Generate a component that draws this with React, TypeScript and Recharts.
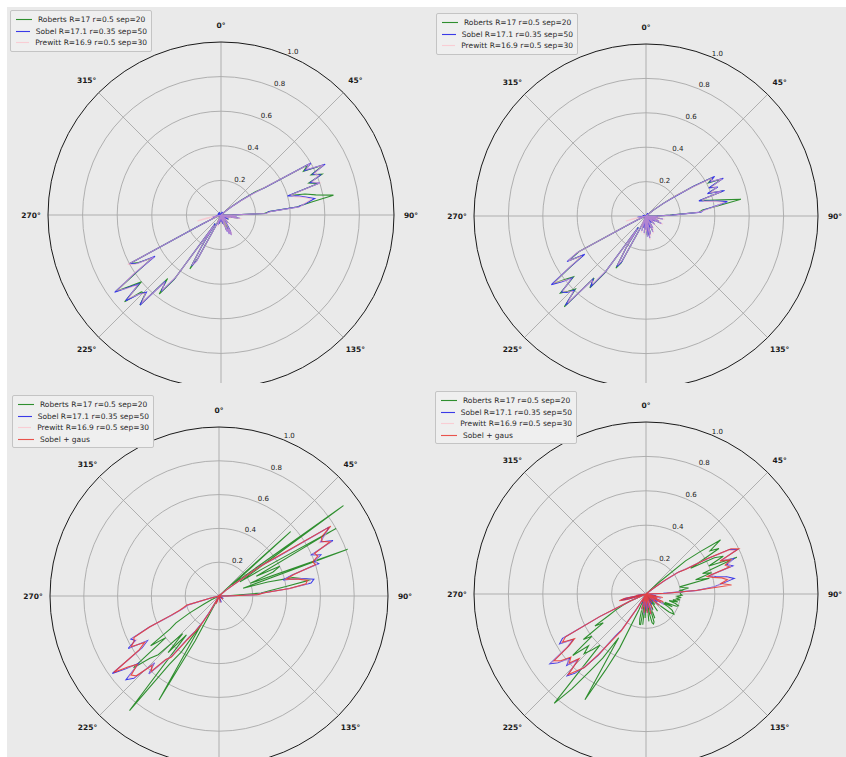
import React from 'react';
import { RadarChart, Radar, PolarGrid, PolarAngleAxis, PolarRadiusAxis } from 'recharts';

type Pt = [number, number];

// ---------- labels ----------
const ANGLE_LABELS = [0, 45, 90, 135, 225, 270, 315];
const RADIUS_TICKS = [0.2, 0.4, 0.6, 0.8, 1.0];
const RING_VALUES = [0.2, 0.4, 0.6, 0.8];
const GRID_ANGLES = [90, 45, 0, -45, -90, -135, -180, -225];
const NAME_ROBERTS = 'Roberts R=17 r=0.5 sep=20';
const NAME_SOBEL = 'Sobel R=17.1 r=0.35 sep=50';
const NAME_PREWITT = 'Prewitt R=16.9 r=0.5 sep=30';
const NAME_GAUS = 'Sobel + gaus';

// ---------- data: [angle in degrees, value]; angles not listed are 0 ----------
const tlRoberts: Pt[] = [
  [50, 0.04], [52, 0.09], [54, 0.15], [56, 0.24], [58, 0.3], [60, 0.58], [62, 0.54], [64, 0.66], [66, 0.57], [68, 0.63], [70, 0.54], [72, 0.59], [74, 0.41], [76, 0.5], [78, 0.56], [80, 0.66], [82, 0.52], [84, 0.44], [86, 0.28], [88, 0.25], [90, 0.06],
  [94, 0.05], [96, 0.08], [100, 0.1], [102, 0.06], [106, 0.05], [120, 0.05], [140, 0.05], [150, 0.1], [152, 0.12], [156, 0.1], [160, 0.09], [170, 0.05], [190, 0.05], [200, 0.05],
  [206, 0.08], [208, 0.28], [210, 0.36], [212, 0.2], [214, 0.06], [216, 0.46], [218, 0.58], [220, 0.48], [222, 0.7], [224, 0.63], [226, 0.64], [228, 0.75], [230, 0.6], [232, 0.67], [234, 0.75], [236, 0.58], [238, 0.47], [240, 0.55], [242, 0.6], [244, 0.12], [246, 0.06],
];
const tlSobel: Pt[] = [
  [20, 0.02], [36, 0.02],
  [50, 0.04], [52, 0.08], [54, 0.14], [56, 0.22], [58, 0.3], [60, 0.6], [62, 0.55], [64, 0.67], [66, 0.58], [68, 0.62], [70, 0.55], [72, 0.6], [74, 0.4], [76, 0.46], [78, 0.5], [80, 0.55], [82, 0.5], [84, 0.45], [86, 0.28], [88, 0.26], [90, 0.06],
  [94, 0.06], [96, 0.09], [98, 0.05], [100, 0.11], [102, 0.07], [106, 0.05], [112, 0.04], [120, 0.05], [130, 0.04], [140, 0.06], [148, 0.08], [150, 0.11], [152, 0.13], [154, 0.08], [156, 0.12], [158, 0.07], [160, 0.1], [164, 0.06], [170, 0.05], [180, 0.04], [190, 0.05], [196, 0.06], [200, 0.05], [204, 0.04],
  [206, 0.08], [208, 0.3], [210, 0.34], [212, 0.2], [214, 0.06], [216, 0.45], [218, 0.56], [220, 0.5], [222, 0.7], [224, 0.62], [226, 0.66], [228, 0.74], [230, 0.62], [232, 0.68], [234, 0.76], [236, 0.6], [238, 0.45], [240, 0.56], [242, 0.6], [244, 0.12], [246, 0.06], [248, 0.04],
  [256, 0.05], [262, 0.03], [280, 0.02], [300, 0.02], [330, 0.02],
];
const tlPrewitt: Pt[] = [
  [50, 0.04], [52, 0.08], [54, 0.13], [56, 0.21], [58, 0.31], [60, 0.59], [62, 0.56], [64, 0.66], [66, 0.59], [68, 0.61], [70, 0.56], [72, 0.6], [74, 0.42], [76, 0.44], [78, 0.49], [80, 0.53], [82, 0.49], [84, 0.46], [86, 0.29], [88, 0.26], [90, 0.07],
  [94, 0.07], [96, 0.09], [100, 0.12], [102, 0.08], [106, 0.06], [112, 0.05], [130, 0.05], [140, 0.07], [150, 0.12], [152, 0.13], [154, 0.09], [156, 0.12], [160, 0.1], [164, 0.07], [180, 0.05], [196, 0.07], [200, 0.05],
  [206, 0.09], [208, 0.31], [210, 0.33], [212, 0.21], [214, 0.07], [216, 0.44], [218, 0.55], [220, 0.51], [222, 0.68], [224, 0.63], [226, 0.66], [228, 0.72], [230, 0.63], [232, 0.69], [234, 0.74], [236, 0.61], [238, 0.46], [240, 0.57], [242, 0.61], [244, 0.13], [246, 0.07], [256, 0.14], [258, 0.08],
];

const trRoberts: Pt[] = [
  [52, 0.06], [54, 0.13], [56, 0.21], [58, 0.33], [60, 0.45], [62, 0.41], [64, 0.49], [66, 0.41], [68, 0.44], [70, 0.39], [72, 0.47], [74, 0.33], [76, 0.38], [78, 0.45], [80, 0.56], [82, 0.42], [84, 0.33], [86, 0.31], [88, 0.14], [90, 0.06],
  [96, 0.06], [100, 0.09], [110, 0.07], [116, 0.09], [134, 0.06], [150, 0.07], [156, 0.09], [166, 0.1], [170, 0.12], [176, 0.11], [186, 0.09], [196, 0.08], [204, 0.05],
  [206, 0.1], [208, 0.31], [210, 0.35], [212, 0.22], [214, 0.08], [216, 0.41], [218, 0.53], [220, 0.47], [222, 0.71], [224, 0.59], [226, 0.63], [228, 0.67], [230, 0.55], [232, 0.6], [234, 0.67], [236, 0.53], [238, 0.43], [240, 0.52], [242, 0.44], [244, 0.1], [246, 0.05],
];
const trSobel: Pt[] = [
  [30, 0.02],
  [52, 0.06], [54, 0.12], [56, 0.2], [58, 0.32], [60, 0.46], [62, 0.42], [64, 0.5], [66, 0.4], [68, 0.45], [70, 0.38], [72, 0.48], [74, 0.32], [76, 0.36], [78, 0.42], [80, 0.48], [82, 0.4], [84, 0.34], [86, 0.32], [88, 0.15], [90, 0.06],
  [96, 0.07], [100, 0.1], [104, 0.06], [110, 0.08], [116, 0.1], [120, 0.06], [126, 0.05], [134, 0.07], [140, 0.05], [150, 0.08], [156, 0.1], [160, 0.07], [166, 0.11], [170, 0.13], [172, 0.1], [176, 0.12], [180, 0.08], [186, 0.1], [190, 0.07], [196, 0.09], [200, 0.06], [204, 0.05],
  [206, 0.1], [208, 0.3], [210, 0.34], [212, 0.22], [214, 0.08], [216, 0.4], [218, 0.52], [220, 0.48], [222, 0.7], [224, 0.6], [226, 0.64], [228, 0.66], [230, 0.56], [232, 0.62], [234, 0.68], [236, 0.54], [238, 0.42], [240, 0.53], [242, 0.45], [244, 0.1], [246, 0.05],
  [254, 0.04], [262, 0.05], [280, 0.02],
];
const trPrewitt: Pt[] = [
  [52, 0.07], [54, 0.12], [56, 0.22], [58, 0.31], [60, 0.44], [62, 0.43], [64, 0.49], [66, 0.42], [68, 0.44], [70, 0.4], [72, 0.46], [74, 0.34], [76, 0.35], [78, 0.41], [80, 0.46], [82, 0.41], [84, 0.35], [86, 0.31], [88, 0.16], [90, 0.07],
  [96, 0.08], [100, 0.11], [104, 0.07], [110, 0.09], [116, 0.11], [126, 0.06], [134, 0.08], [150, 0.09], [156, 0.11], [166, 0.12], [170, 0.14], [176, 0.12], [180, 0.09], [186, 0.11], [196, 0.1], [200, 0.07],
  [206, 0.11], [208, 0.29], [210, 0.33], [212, 0.23], [214, 0.09], [216, 0.39], [218, 0.5], [220, 0.49], [222, 0.68], [224, 0.61], [226, 0.63], [228, 0.65], [230, 0.57], [232, 0.61], [234, 0.66], [236, 0.55], [238, 0.44], [240, 0.52], [242, 0.46], [244, 0.11], [246, 0.06], [256, 0.12], [258, 0.07],
];

const blRoberts: Pt[] = [
  [46, 0.05], [48, 0.57], [50, 0.1], [52, 0.2], [54, 0.91], [56, 0.15], [58, 0.3], [60, 0.8], [62, 0.25], [64, 0.4], [66, 0.35], [68, 0.2], [70, 0.81], [72, 0.15], [74, 0.3], [76, 0.45], [78, 0.5], [80, 0.55], [82, 0.4], [84, 0.3], [86, 0.25], [88, 0.05],
  [206, 0.05], [208, 0.3], [210, 0.71], [212, 0.2], [214, 0.4], [216, 0.5], [218, 0.86], [220, 0.3], [222, 0.45], [224, 0.31], [226, 0.5], [228, 0.55], [230, 0.66], [232, 0.4], [234, 0.5], [236, 0.35], [238, 0.3], [240, 0.2], [242, 0.1], [244, 0.05],
];
const blSobel: Pt[] = [
  [50, 0.05], [52, 0.1], [54, 0.3], [56, 0.4], [58, 0.77], [60, 0.72], [62, 0.68], [64, 0.75], [66, 0.6], [68, 0.65], [70, 0.6], [72, 0.62], [74, 0.45], [76, 0.39], [78, 0.5], [80, 0.57], [82, 0.55], [84, 0.42], [86, 0.26], [88, 0.22], [90, 0.04],
  [120, 0.03], [160, 0.04], [200, 0.04],
  [210, 0.1], [212, 0.18], [214, 0.25], [216, 0.3], [218, 0.45], [220, 0.5], [222, 0.62], [224, 0.55], [226, 0.7], [228, 0.74], [230, 0.62], [232, 0.7], [234, 0.78], [236, 0.55], [238, 0.5], [240, 0.62], [242, 0.56], [244, 0.58], [246, 0.45], [248, 0.3], [250, 0.24], [252, 0.21], [254, 0.19], [256, 0.05],
];
const blPrewitt: Pt[] = [
  [50, 0.06], [52, 0.11], [54, 0.28], [56, 0.41], [58, 0.75], [60, 0.73], [62, 0.67], [64, 0.74], [66, 0.61], [68, 0.64], [70, 0.61], [72, 0.61], [74, 0.46], [76, 0.4], [78, 0.49], [80, 0.55], [82, 0.53], [84, 0.43], [86, 0.27], [88, 0.22], [90, 0.05],
  [210, 0.11], [212, 0.19], [214, 0.26], [216, 0.31], [218, 0.44], [220, 0.51], [222, 0.61], [224, 0.56], [226, 0.69], [228, 0.72], [230, 0.63], [232, 0.69], [234, 0.76], [236, 0.56], [238, 0.51], [240, 0.61], [242, 0.55], [244, 0.57], [246, 0.44], [248, 0.3], [250, 0.24], [252, 0.21], [254, 0.19], [256, 0.06],
];
const blGaus: Pt[] = [
  [50, 0.05], [52, 0.1], [54, 0.29], [56, 0.42], [58, 0.78], [60, 0.7], [62, 0.69], [64, 0.73], [66, 0.62], [68, 0.63], [70, 0.59], [72, 0.6], [74, 0.46], [76, 0.41], [78, 0.48], [80, 0.53], [82, 0.52], [84, 0.42], [86, 0.27], [88, 0.23], [90, 0.05],
  [130, 0.03], [170, 0.04], [200, 0.05],
  [210, 0.12], [212, 0.2], [214, 0.26], [216, 0.32], [218, 0.46], [220, 0.49], [222, 0.6], [224, 0.57], [226, 0.68], [228, 0.7], [230, 0.63], [232, 0.68], [234, 0.77], [236, 0.57], [238, 0.52], [240, 0.6], [242, 0.57], [244, 0.56], [246, 0.45], [248, 0.31], [250, 0.25], [252, 0.22], [254, 0.2], [256, 0.06],
];

const brRoberts: Pt[] = [
  [48, 0.1], [50, 0.3], [52, 0.4], [54, 0.535], [56, 0.45], [58, 0.5], [60, 0.3], [62, 0.45], [64, 0.5], [66, 0.4], [68, 0.57], [70, 0.35], [72, 0.4], [74, 0.3], [76, 0.38], [78, 0.2], [80, 0.22], [82, 0.25], [84, 0.2], [86, 0.22], [88, 0.2], [90, 0.2], [92, 0.21], [94, 0.18],
  [96, 0.2], [98, 0.18], [100, 0.2], [102, 0.16], [104, 0.19], [106, 0.14], [108, 0.18], [110, 0.2], [112, 0.19], [114, 0.12], [116, 0.17], [118, 0.1], [120, 0.15], [122, 0.18], [124, 0.19], [126, 0.2], [128, 0.17], [130, 0.1], [134, 0.05], [140, 0.08], [146, 0.12], [150, 0.05], [156, 0.1], [160, 0.15], [164, 0.17], [166, 0.18], [168, 0.17], [170, 0.12], [174, 0.16], [178, 0.1], [182, 0.14], [186, 0.18], [190, 0.18], [192, 0.18], [194, 0.15], [196, 0.08], [200, 0.06],
  [204, 0.1], [206, 0.35], [208, 0.5], [210, 0.71], [212, 0.3], [214, 0.45], [216, 0.55], [218, 0.7], [220, 0.83], [222, 0.4], [224, 0.45], [226, 0.5], [228, 0.45], [230, 0.556], [232, 0.4], [234, 0.45], [236, 0.3], [238, 0.35], [240, 0.25], [242, 0.2], [244, 0.15], [246, 0.1],
];
const brSobel: Pt[] = [
  [52, 0.05], [54, 0.12], [56, 0.22], [58, 0.28], [60, 0.4], [62, 0.55], [64, 0.59], [66, 0.48], [68, 0.55], [70, 0.5], [72, 0.53], [74, 0.38], [76, 0.42], [78, 0.48], [80, 0.52], [82, 0.45], [84, 0.4], [86, 0.3], [88, 0.1],
  [100, 0.06], [106, 0.09], [110, 0.05], [116, 0.1], [120, 0.12], [124, 0.08], [130, 0.1], [136, 0.06], [150, 0.07], [160, 0.1], [166, 0.12], [170, 0.08], [176, 0.11], [180, 0.09], [186, 0.12], [190, 0.07], [196, 0.09], [200, 0.06],
  [212, 0.1], [214, 0.25], [216, 0.3], [218, 0.45], [220, 0.55], [222, 0.62], [224, 0.66], [226, 0.55], [228, 0.62], [230, 0.58], [232, 0.65], [234, 0.69], [236, 0.55], [238, 0.5], [240, 0.58], [242, 0.55], [244, 0.3], [246, 0.1],
  [254, 0.1], [256, 0.15], [258, 0.12], [262, 0.05],
];
const brPrewitt: Pt[] = [
  [52, 0.06], [54, 0.13], [56, 0.21], [58, 0.29], [60, 0.41], [62, 0.54], [64, 0.58], [66, 0.49], [68, 0.54], [70, 0.51], [72, 0.52], [74, 0.39], [76, 0.41], [78, 0.47], [80, 0.5], [82, 0.44], [84, 0.41], [86, 0.31], [88, 0.11],
  [106, 0.1], [116, 0.11], [120, 0.12], [130, 0.11], [160, 0.11], [166, 0.12], [176, 0.12], [186, 0.12], [196, 0.1],
  [212, 0.11], [214, 0.26], [216, 0.31], [218, 0.44], [220, 0.54], [222, 0.61], [224, 0.65], [226, 0.56], [228, 0.61], [230, 0.59], [232, 0.64], [234, 0.68], [236, 0.56], [238, 0.51], [240, 0.57], [242, 0.54], [244, 0.31], [246, 0.11],
];
const brGaus: Pt[] = [
  [52, 0.05], [54, 0.14], [56, 0.23], [58, 0.27], [60, 0.41], [62, 0.56], [64, 0.6], [66, 0.47], [68, 0.53], [70, 0.49], [72, 0.51], [74, 0.37], [76, 0.4], [78, 0.45], [80, 0.48], [82, 0.44], [84, 0.5], [86, 0.29], [88, 0.12],
  [102, 0.1], [110, 0.07], [114, 0.11], [120, 0.1], [130, 0.1], [144, 0.06], [156, 0.09], [166, 0.12], [176, 0.11], [186, 0.11], [196, 0.09], [206, 0.05],
  [212, 0.11], [214, 0.26], [216, 0.32], [218, 0.44], [220, 0.56], [222, 0.6], [224, 0.65], [226, 0.54], [228, 0.6], [230, 0.57], [232, 0.63], [234, 0.66], [236, 0.54], [238, 0.49], [240, 0.56], [242, 0.53], [244, 0.3], [246, 0.1],
  [254, 0.12], [256, 0.16], [258, 0.13], [262, 0.06],
];

// ---------- styling ----------
const FONT = '"DejaVu Sans", Verdana, sans-serif';
const BG = '#eaeaea';
const GREEN = '#2f8f2f';
const BLUE = '#3a3ae8';
const PINK = '#ffb6c1';
const RED = '#e8372f';

type SeriesDef = { key: string; name: string; color: string; opacity: number; points: Pt[] };

function buildRows(series: SeriesDef[]) {
  const rows: Record<string, number>[] = [];
  for (let a = 0; a < 360; a += 2) {
    const row: Record<string, number> = { angle: a };
    series.forEach((s) => {
      const hit = s.points.find((p) => p[0] === a);
      row[s.key] = hit ? hit[1] : 0;
    });
    rows.push(row);
  }
  return rows;
}

// angle labels: categories are every 2 degrees, so each label is emitted by the
// nearest category and placed at its exact compass angle
function makeAngleTick(cx: number, cy: number, R: number) {
  return (props: any) => {
    const v = Number(props.payload.value);
    const label = ANGLE_LABELS.find((a) => a === v || a === v + 1);
    if (label === undefined) return <g />;
    const rad = (label * Math.PI) / 180;
    const r = R + 17;
    const x = cx + r * Math.sin(rad);
    const y = cy - r * Math.cos(rad);
    return (
      <text x={x} y={y} textAnchor="middle" dominantBaseline="central" fontSize={7.5} fontWeight="bold" fill="#1a1a1a" fontFamily={FONT}>
        {`${label}°`}
      </text>
    );
  };
}

const RadiusTick = (props: any) => {
  const { x, y, payload } = props;
  return (
    <text x={x} y={y - 1.5} textAnchor="start" fontSize={7} fill="#1a1a1a" fontFamily={FONT}>
      {Number(payload.value).toFixed(1)}
    </text>
  );
};

type PanelProps = {
  left: number; top: number; width: number; height: number;
  cx: number; cy: number; R: number;
  series: SeriesDef[];
  legendLeft: number; legendTop: number;
};

function Panel({ left, top, width, height, cx, cy, R, series, legendLeft, legendTop }: PanelProps) {
  const data = buildRows(series);
  const lcx = cx - left;
  const lcy = cy - top;
  return (
    <div style={{ position: 'absolute', left, top, width, height, overflow: 'hidden' }}>
      <RadarChart
        width={width}
        height={height}
        data={data}
        cx={lcx}
        cy={lcy}
        outerRadius={R}
        startAngle={90}
        endAngle={-270}
        margin={{ top: 0, right: 0, bottom: 0, left: 0 }}
      >
        <PolarGrid
          gridType="circle"
          polarAngles={GRID_ANGLES}
          polarRadius={RING_VALUES.map((v) => v * R)}
          stroke="#a8a8a8"
          strokeWidth={0.9}
        />
        <PolarAngleAxis
          dataKey="angle"
          tick={makeAngleTick(lcx, lcy, R)}
          tickSize={17}
          tickLine={false}
          axisLineType="circle"
          axisLine={{ stroke: '#1a1a1a', strokeWidth: 1 }}
        />
        <PolarRadiusAxis angle={67.5} domain={[0, 1]} ticks={RADIUS_TICKS} axisLine={false} tick={RadiusTick} />
        {series.map((s) => (
          <Radar
            key={s.key}
            dataKey={s.key}
            name={s.name}
            stroke={s.color}
            strokeOpacity={s.opacity}
            strokeWidth={1.1}
            fill="none"
            fillOpacity={0}
            dot={false}
            isAnimationActive={false}
          />
        ))}
      </RadarChart>
      <div
        style={{
          position: 'absolute',
          left: legendLeft - left,
          top: legendTop - top,
          width: 132,
          padding: '3px 4px 2px 4px',
          border: '1px solid #c4c4c4',
          borderRadius: 2,
          background: '#efefef',
          fontFamily: FONT,
          fontSize: 7.5,
          color: '#2a2a2a',
        }}
      >
        {series.map((s) => (
          <div key={s.key} style={{ display: 'flex', alignItems: 'center', height: 11.5 }}>
            <svg width={16} height={3} style={{ marginLeft: 1, marginRight: 6 }}>
              <line x1={0} y1={1.5} x2={16} y2={1.5} stroke={s.color} strokeOpacity={s.opacity} strokeWidth={1.1} />
            </svg>
            <span style={{ whiteSpace: 'nowrap' }}>{s.name}</span>
          </div>
        ))}
      </div>
    </div>
  );
}

const topSeries = (r: Pt[], s: Pt[], p: Pt[]): SeriesDef[] => [
  { key: 'roberts', name: NAME_ROBERTS, color: GREEN, opacity: 1, points: r },
  { key: 'sobel', name: NAME_SOBEL, color: BLUE, opacity: 1, points: s },
  { key: 'prewitt', name: NAME_PREWITT, color: PINK, opacity: 0.6, points: p },
];
const bottomSeries = (r: Pt[], s: Pt[], p: Pt[], g: Pt[]): SeriesDef[] => [
  ...topSeries(r, s, p),
  { key: 'gaus', name: NAME_GAUS, color: RED, opacity: 0.85, points: g },
];

export default function App() {
  return (
    <div style={{ position: 'absolute', left: 0, top: 0, width: 846, height: 757, background: '#ffffff', overflow: 'hidden' }}>
      <div style={{ position: 'absolute', left: 7, top: 7, width: 839, height: 750, background: BG }} />
      <Panel left={7} top={7} width={416} height={376} cx={221} cy={215} R={173}
        series={topSeries(tlRoberts, tlSobel, tlPrewitt)} legendLeft={10} legendTop={10} />
      <Panel left={423} top={7} width={423} height={376} cx={646} cy={216} R={172}
        series={topSeries(trRoberts, trSobel, trPrewitt)} legendLeft={436} legendTop={13} />
      <Panel left={7} top={383} width={416} height={374} cx={219} cy={596} R={169}
        series={bottomSeries(blRoberts, blSobel, blPrewitt, blGaus)} legendLeft={12} legendTop={395} />
      <Panel left={423} top={383} width={423} height={374} cx={646} cy={594} R={172}
        series={bottomSeries(brRoberts, brSobel, brPrewitt, brGaus)} legendLeft={435} legendTop={391} />
    </div>
  );
}
